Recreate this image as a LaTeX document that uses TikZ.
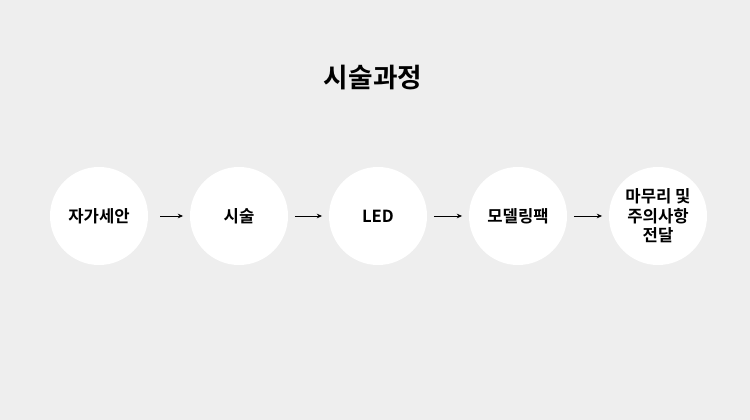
\documentclass[tikz,border=0pt]{standalone}
\usepackage{fontspec}
\setmainfont{Noto Sans CJK KR}[BoldFont={* Bold}]
\usetikzlibrary{arrows.meta}
\definecolor{bg}{HTML}{EEEEEE}
\tikzset{
  stage/.style={circle,fill=white,minimum size=73.5pt,inner sep=0pt,align=center,font=\bfseries\fontsize{12.5}{14.5}\selectfont},
  flow/.style={-{Stealth[length=4pt,width=3.5pt]},line width=0.6pt}
}
\begin{document}
\begin{tikzpicture}[x=0.75pt,y=-0.75pt]
\fill[bg] (0,0) rectangle (750,420);
\useasboundingbox (0,0) rectangle (750,420);
\node[font=\bfseries\fontsize{20}{24}\selectfont] (title) at (373,78) {시술과정};
\node[stage] (a) at (99,216) {자가세안};
\node[stage] (b) at (239,216) {시술};
\node[stage] (c) at (378,216) {LED};
\node[stage] (d) at (518,216) {모델링팩};
\node[stage] (e) at (658,216) {마무리 및\\주의사항\\전달};
\draw[flow] ([xshift=9pt]a.east) -- ([xshift=-5pt]b.west);
\draw[flow] ([xshift=5pt]b.east) -- ([xshift=-5pt]c.west);
\draw[flow] ([xshift=5pt]c.east) -- ([xshift=-5pt]d.west);
\draw[flow] ([xshift=5pt]d.east) -- ([xshift=-5pt]e.west);
\end{tikzpicture}
\end{document}
